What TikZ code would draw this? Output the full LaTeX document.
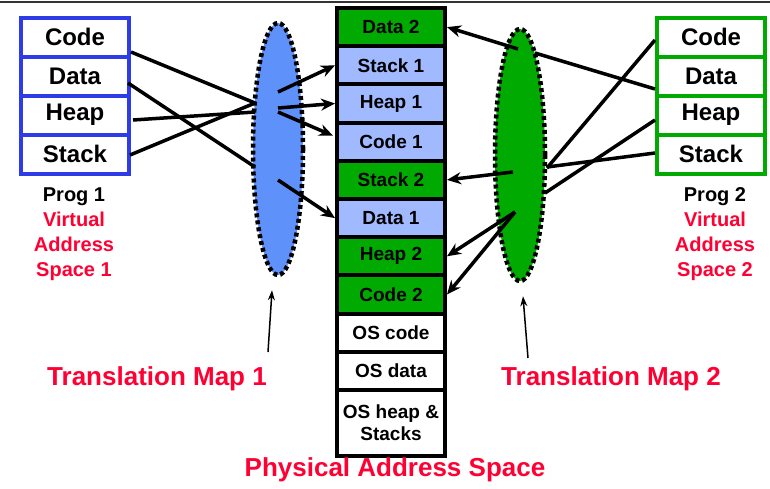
\documentclass[tikz,border=0pt]{standalone}
\usepackage{fontspec}
\setmainfont{Liberation Sans}
\usetikzlibrary{shapes,arrows,arrows.meta,positioning,calc}
\definecolor{vblue}{RGB}{45,60,230}
\definecolor{mapblue}{RGB}{95,145,250}
\definecolor{cellblue}{RGB}{160,185,255}
\definecolor{pgreen}{RGB}{0,170,0}
\definecolor{labelred}{RGB}{255,0,51}

\begin{document}
\begin{tikzpicture}[x=1pt, y=-1pt,
    vbox/.style={draw, line width=4pt, fill=white, minimum width=108pt, minimum height=39pt, inner sep=0pt, font=\fontsize{24}{28}\selectfont\bfseries},
    pbox/.style={draw=black, line width=4pt, minimum width=108pt, minimum height=38.2pt, inner sep=0pt, align=center, font=\fontsize{19}{22}\selectfont\bfseries},
    tmap/.style={ellipse, draw=black, line width=4.5pt, dash pattern=on 4pt off 3pt, inner sep=0pt, minimum width=50pt, minimum height=252pt},
    map/.style={line width=3.5pt},
    maparrow/.style={line width=3.5pt, -{Stealth[length=14pt,width=12pt]}},
    pointer/.style={line width=1.5pt, -{Stealth[length=10pt,width=7pt]}},
    redlabel/.style={text=labelred, font=\fontsize{26}{30}\selectfont\bfseries},
    proglabel/.style={text=labelred, align=center, font=\fontsize{20}{25}\selectfont\bfseries}]

  \useasboundingbox (0,0) rectangle (770,488);
  \draw[line width=2pt, black!80] (0,1.5) -- (770,1.5);

  % Prog 1 virtual address space
  \node[vbox, draw=vblue] (lcode) at (75,37) {Code};
  \node[vbox, draw=vblue] (ldata) at (75,76) {Data};
  \node[vbox, draw=vblue] (lheap) at (75,115) {Heap};
  \node[vbox, draw=vblue] (lstack) at (75,154) {Stack};
  \node[proglabel] (prog1) at (74,234) {\textcolor{black}{Prog 1}\\Virtual\\Address\\Space 1};

  % Prog 2 virtual address space
  \node[vbox, draw=pgreen] (rcode) at (711,37) {Code};
  \node[vbox, draw=pgreen] (rdata) at (711,76) {Data};
  \node[vbox, draw=pgreen] (rheap) at (711,115) {Heap};
  \node[vbox, draw=pgreen] (rstack) at (711,154) {Stack};
  \node[proglabel] (prog2) at (715,234) {\textcolor{black}{Prog 2}\\Virtual\\Address\\Space 2};

  % Physical address space
  \node[pbox, fill=pgreen] (pdata2) at (391,27.1) {Data 2};
  \node[pbox, fill=cellblue] (pstack1) at (391,65.3) {Stack 1};
  \node[pbox, fill=cellblue] (pheap1) at (391,103.5) {Heap 1};
  \node[pbox, fill=cellblue] (pcode1) at (391,141.7) {Code 1};
  \node[pbox, fill=pgreen] (pstack2) at (391,179.9) {Stack 2};
  \node[pbox, fill=cellblue] (pdata1) at (391,218.1) {Data 1};
  \node[pbox, fill=pgreen] (pheap2) at (391,256.3) {Heap 2};
  \node[pbox, fill=pgreen] (pcode2) at (391,294.5) {Code 2};
  \node[pbox, fill=white] (poscode) at (391,332.7) {OS code};
  \node[pbox, fill=white] (posdata) at (391,370.9) {OS data};
  \node[pbox, fill=white, minimum height=66pt] (posheap) at (391,423) {OS heap \&\\Stacks};
  \node[redlabel] (pas) at (395,470) {Physical Address Space};

  % Translation maps
  \node[tmap, fill=mapblue] (tmap1) at (278,149) {};
  \node[tmap, fill=pgreen] (tmap2) at (520,155) {};
  \node[redlabel] (tm1) at (157,379) {Translation Map 1};
  \node[redlabel] (tm2) at (611,379) {Translation Map 2};

  % map 1
  \coordinate (in1a) at (255,103);
  \coordinate (in1b) at (255,112);
  \coordinate (in1c) at (255,167);
  \coordinate (out1a) at (278,92);
  \coordinate (out1b) at (278,108);
  \coordinate (out1c) at (278,112);
  \coordinate (out1d) at (278,180);
  \draw[map] ($(lcode.east)+(0,15)$) -- (in1a);
  \draw[map] ($(ldata.east)+(-3,7)$) -- (in1c);
  \draw[map] ($(lheap.east)+(2,5)$) -- (in1b);
  \draw[map] ($(lstack.east)+(-1,1)$) -- (in1a);
  \draw[maparrow] (out1a) -- (pstack1.west);
  \draw[maparrow] (out1b) -- (pheap1.west);
  \draw[maparrow] (out1c) -- ($(pcode1.west)+(-2,-6)$);
  \draw[maparrow] (out1d) -- (pdata1.west);

  % map 2
  \coordinate (in2a) at (547,168);
  \coordinate (in2b) at (535,53);
  \coordinate (in2c) at (545,193);
  \coordinate (in2d) at (547,167);
  \coordinate (out2a) at (518,49);
  \coordinate (out2b) at (513,172);
  \coordinate (out2c) at (515,212);
  \draw[map] ($(rcode.west)+(0,3)$) -- (in2a);
  \draw[map] ($(rdata.west)+(0,13)$) -- (in2b);
  \draw[map] ($(rheap.west)+(0,5)$) -- (in2c);
  \draw[map] ($(rstack.west)+(0,-1)$) -- (in2d);
  \draw[maparrow] (out2a) -- (pdata2.east);
  \draw[maparrow] (out2b) -- (pstack2.east);
  \draw[maparrow] (out2c) -- (pheap2.east);
  \draw[maparrow] (out2c) -- (pcode2.east);

  % pointers to the maps
  \coordinate (tm1tail) at (268,352);
  \coordinate (tm2tail) at (528,358);
  \draw[pointer] (tm1tail) -- ($(tmap1.south)+(-6,13)$);
  \draw[pointer] (tm2tail) -- ($(tmap2.south)+(3,13)$);
\end{tikzpicture}
\end{document}
